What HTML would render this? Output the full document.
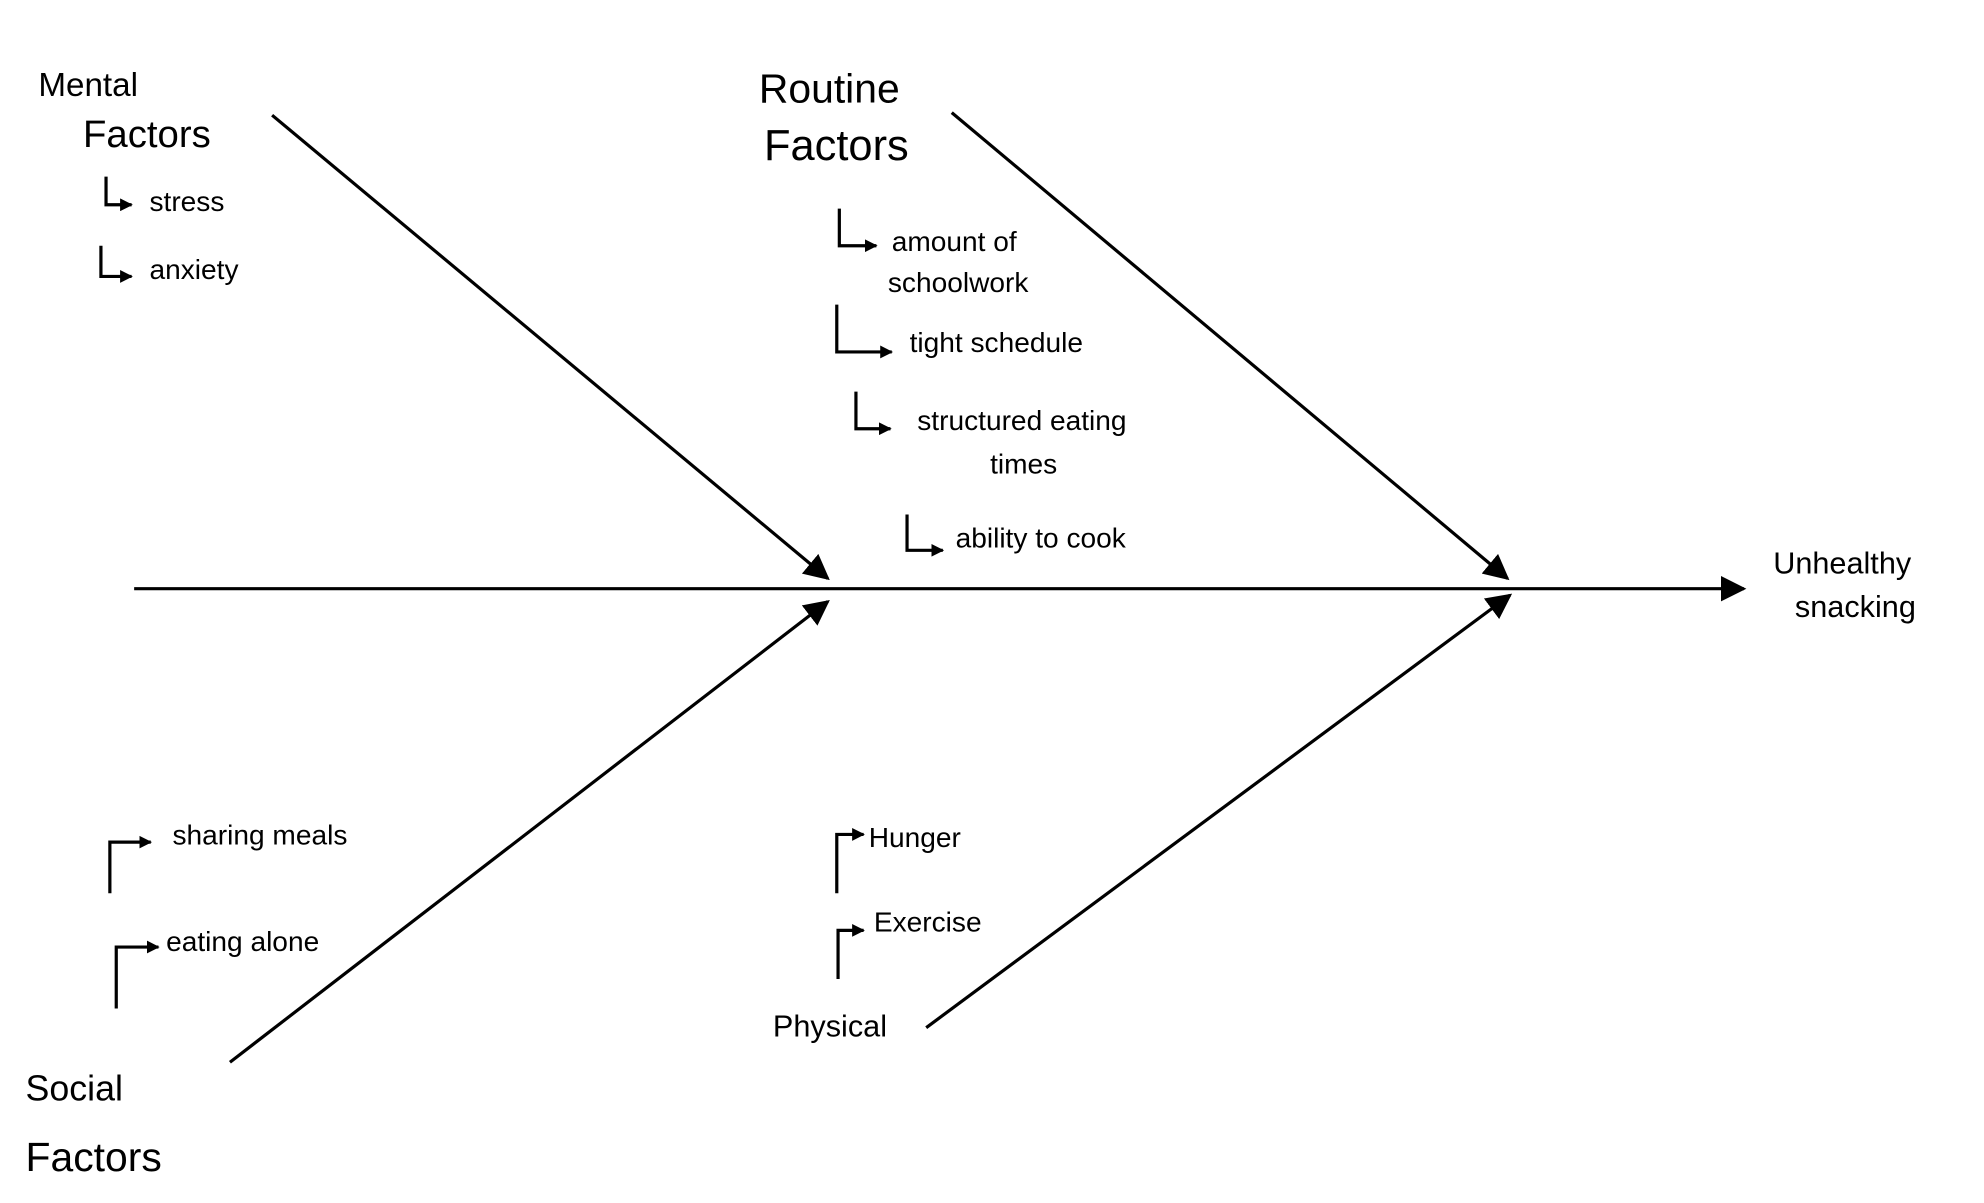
<!DOCTYPE html>
<html><head><meta charset="utf-8"><style>
html,body{margin:0;padding:0;background:#fff;}
svg{display:block;}
text{font-family:"Liberation Sans",sans-serif;fill:#000;}
</style></head><body>
<svg width="1984" height="1203" viewBox="0 0 1553 940" preserveAspectRatio="none" xmlns="http://www.w3.org/2000/svg">
<defs>
<marker id="a" markerWidth="10" markerHeight="10" refX="9" refY="5" orient="auto" markerUnits="userSpaceOnUse" viewBox="0 0 10 10">
<path d="M0,0 L10,5 L0,10 z" fill="#000"/></marker>
<marker id="b" markerWidth="20" markerHeight="20" refX="18" refY="10" orient="auto" markerUnits="userSpaceOnUse" viewBox="0 0 20 20">
<path d="M0,0 L20,10 L0,20 z" fill="#000"/></marker>
</defs>
<g stroke="#000" stroke-width="2.5" fill="none">
<line x1="105" y1="460" x2="1365" y2="460" marker-end="url(#b)"/>
<line x1="213" y1="90" x2="648" y2="452" marker-end="url(#b)"/>
<line x1="745" y1="88" x2="1180" y2="452" marker-end="url(#b)"/>
<line x1="180" y1="830" x2="648" y2="470" marker-end="url(#b)"/>
<line x1="725" y1="803" x2="1182" y2="465" marker-end="url(#b)"/>
<!-- sub arrows -->
<path d="M83,138 L83,160 L103,160" marker-end="url(#a)"/>
<path d="M79,192 L79,216 L103,216" marker-end="url(#a)"/>
<path d="M657,163 L657,192 L686,192" marker-end="url(#a)"/>
<path d="M655,238 L655,275 L698,275" marker-end="url(#a)"/>
<path d="M670,306 L670,335 L697,335" marker-end="url(#a)"/>
<path d="M710,402 L710,430 L738,430" marker-end="url(#a)"/>
<path d="M86,698 L86,658 L118,658" marker-end="url(#a)"/>
<path d="M91,788 L91,740 L124,740" marker-end="url(#a)"/>
<path d="M655,698 L655,652 L676,652" marker-end="url(#a)"/>
<path d="M656,765 L656,727 L676,727" marker-end="url(#a)"/>
</g>
<g font-size="26">
<text x="30" y="75">Mental</text>
<text x="65" y="115" font-size="30">Factors</text>
<text x="594" y="80" font-size="32">Routine</text>
<text x="598" y="125" font-size="34">Factors</text>
<text x="1388" y="448" font-size="24">Unhealthy</text>
<text x="1405" y="482" font-size="24">snacking</text>
<text x="20" y="860" font-size="28">Social</text>
<text x="20" y="915" font-size="32">Factors</text>
<text x="605" y="810" font-size="24">Physical</text>
</g>
<g font-size="22">
<text x="117" y="165">stress</text>
<text x="117" y="218">anxiety</text>
<text x="698" y="196">amount of</text>
<text x="695" y="228">schoolwork</text>
<text x="712" y="275">tight schedule</text>
<text x="718" y="336">structured eating</text>
<text x="775" y="370">times</text>
<text x="748" y="428">ability to cook</text>
<text x="135" y="660">sharing meals</text>
<text x="130" y="743">eating alone</text>
<text x="680" y="662">Hunger</text>
<text x="684" y="728">Exercise</text>
</g>
</svg>
</body></html>
